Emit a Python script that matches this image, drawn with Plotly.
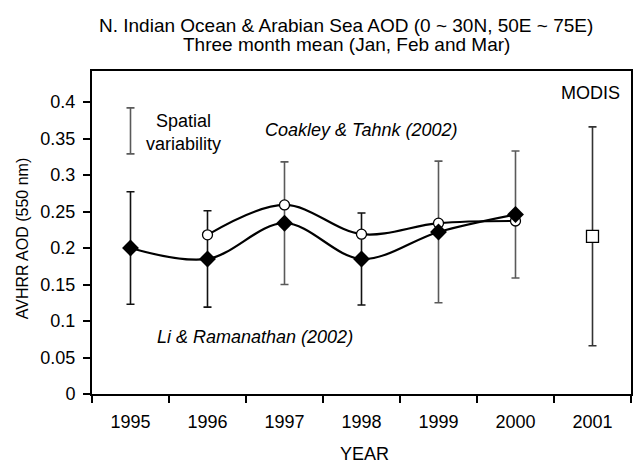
import plotly.graph_objects as go

# Years on the category axis
years = ["1995", "1996", "1997", "1998", "1999", "2000", "2001"]

# Li & Ramanathan (2002): AVHRR AOD and spatial variability (half-range)
li_years = ["1995", "1996", "1997", "1998", "1999", "2000"]
li_aod = [0.200, 0.185, 0.234, 0.185, 0.222, 0.246]
li_err = [0.077, 0.066, 0.084, 0.063, 0.097, 0.087]

# Coakley & Tahnk (2002): AVHRR AOD
ct_years = ["1996", "1997", "1998", "1999", "2000"]
ct_aod = [0.218, 0.259, 0.219, 0.234, 0.237]

# MODIS 2001
modis_year = ["2001"]
modis_aod = [0.216]
modis_err = [0.150]

# Example bar for the "Spatial variability" key
key_year = ["1995"]
key_mid = [0.3605]
key_err = [0.0315]

FONT = "Liberation Sans, Arial, Helvetica, sans-serif"
W, H = 634, 463
L, R, T, B = 92, 1, 71, 69

fig = go.Figure()

def err_trace(xs, ys, es, color):
    fig.add_trace(go.Scatter(
        x=xs, y=ys, mode="markers",
        marker=dict(size=1, color="rgba(0,0,0,0)"),
        error_y=dict(type="data", array=es, visible=True,
                     color=color, thickness=1.6, width=4),
        showlegend=False, hoverinfo="skip"))

# Error bars (black for some years, grey for others)
dark_idx = [0, 1, 3]
grey_idx = [2, 4, 5]
err_trace([li_years[i] for i in dark_idx], [li_aod[i] for i in dark_idx],
          [li_err[i] for i in dark_idx], "#111111")
err_trace([li_years[i] for i in grey_idx], [li_aod[i] for i in grey_idx],
          [li_err[i] for i in grey_idx], "#5a5a5a")
err_trace(modis_year, modis_aod, modis_err, "#333333")
err_trace(key_year, key_mid, key_err, "#5a5a5a")

# Coakley & Tahnk curve with open circles
fig.add_trace(go.Scatter(
    x=ct_years, y=ct_aod, mode="lines+markers",
    line=dict(color="black", width=2.2, shape="spline", smoothing=1.0),
    marker=dict(symbol="circle", size=10, color="white",
                line=dict(color="black", width=1.3)),
    showlegend=False))

# Li & Ramanathan curve with filled diamonds
fig.add_trace(go.Scatter(
    x=li_years, y=li_aod, mode="lines+markers",
    line=dict(color="black", width=2.2, shape="spline", smoothing=1.0),
    marker=dict(symbol="diamond", size=13, color="black"),
    showlegend=False))

# MODIS open square
fig.add_trace(go.Scatter(
    x=modis_year, y=modis_aod, mode="markers",
    marker=dict(symbol="square", size=12, color="white",
                line=dict(color="black", width=1.3)),
    showlegend=False))

def py2paper(py):
    return (H - B - py) / (H - B - T)

def px2paper(px):
    return (px - L) / (W - L - R)

def txt(size):
    return dict(size=size, family=FONT, color="black")

ann = []
# Two-line title
ann.append(dict(text="N. Indian Ocean & Arabian Sea AOD (0 ~ 30N, 50E ~ 75E)",
                xref="paper", yref="paper", x=px2paper(347), y=py2paper(26),
                xanchor="center", yanchor="middle", showarrow=False, font=txt(19)))
ann.append(dict(text="Three month mean (Jan, Feb and Mar)",
                xref="paper", yref="paper", x=px2paper(347), y=py2paper(45),
                xanchor="center", yanchor="middle", showarrow=False, font=txt(19)))
# Axis titles
ann.append(dict(text="AVHRR AOD (550 nm)", xref="paper", yref="paper",
                x=px2paper(22), y=py2paper(238), textangle=-90,
                xanchor="center", yanchor="middle", showarrow=False, font=txt(16)))
ann.append(dict(text="YEAR", xref="paper", yref="paper",
                x=px2paper(366), y=py2paper(454),
                xanchor="center", yanchor="middle", showarrow=False, font=txt(18)))
# In-plot labels
ann.append(dict(text="Spatial<br>variability", x=0.69, y=0.358,
                xanchor="center", yanchor="middle", showarrow=False, font=txt(18)))
ann.append(dict(text="<i>Coakley & Tahnk (2002)</i>", x=2.99, y=0.3616,
                xanchor="center", yanchor="middle", showarrow=False, font=txt(18)))
ann.append(dict(text="<i>Li & Ramanathan (2002)</i>", x=1.62, y=0.078,
                xanchor="center", yanchor="middle", showarrow=False, font=txt(18)))
ann.append(dict(text="MODIS", x=5.97, y=0.412,
                xanchor="center", yanchor="middle", showarrow=False, font=txt(18)))

fig.update_layout(
    width=W, height=H,
    margin=dict(l=L, r=R, t=T, b=B, pad=0),
    paper_bgcolor="white", plot_bgcolor="white",
    font=dict(family=FONT, size=18, color="black"),
    annotations=ann,
    xaxis=dict(type="category", categoryorder="array", categoryarray=years,
               range=[-0.5, 6.5], tickson="boundaries",
               ticks="outside", ticklen=7, tickwidth=1.5, tickcolor="black",
               ticklabelstandoff=10,
               showline=True, linecolor="black", linewidth=2, mirror=True,
               showgrid=False, zeroline=False, tickfont=txt(18)),
    yaxis=dict(range=[0, 0.4425], tickvals=[0, 0.05, 0.1, 0.15, 0.2, 0.25, 0.3, 0.35, 0.4],
               ticktext=["0", "0.05", "0.1", "0.15", "0.2", "0.25", "0.3", "0.35", "0.4"],
               ticks="outside", ticklen=7, tickwidth=1.5, tickcolor="black",
               ticklabelstandoff=4,
               showline=True, linecolor="black", linewidth=2, mirror=True,
               showgrid=False, zeroline=False, tickfont=txt(18)),
)

fig.write_html("out.html")
